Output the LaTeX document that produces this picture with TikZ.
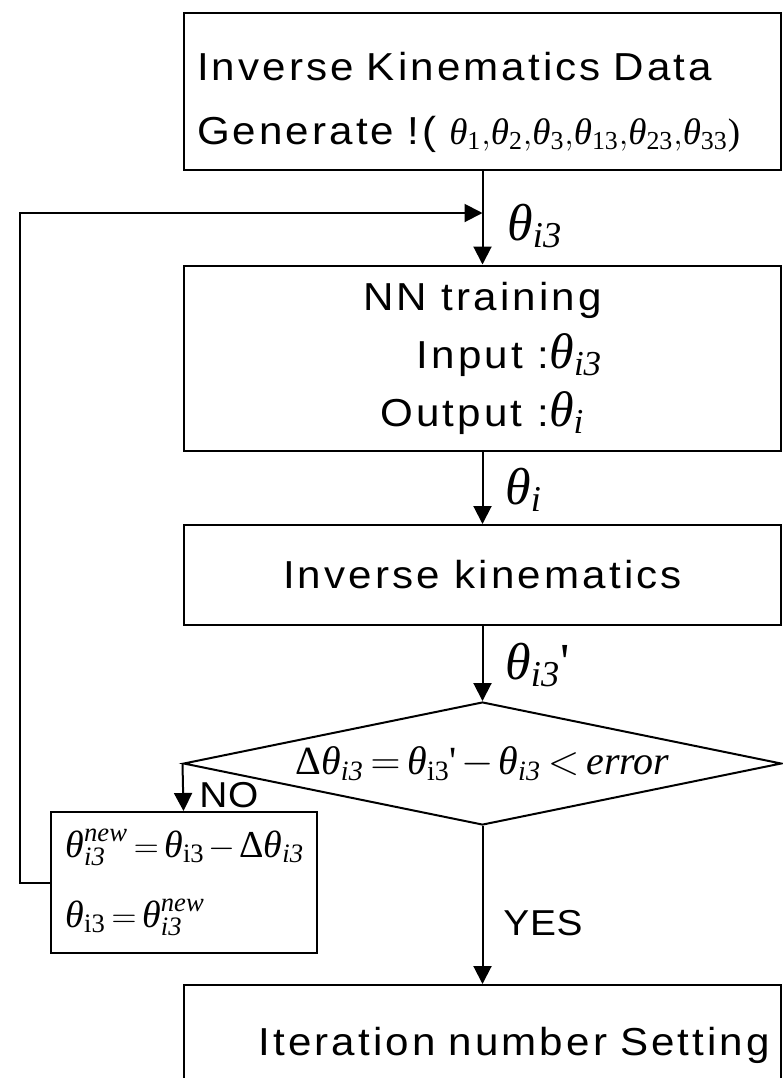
\documentclass[tikz,border=0pt]{standalone}
\usepackage{amsmath}
\usepackage{fontspec}
\setmainfont{Liberation Sans}[FakeStretch=1.08, LetterSpace=8]
\newfontfamily\tms{Liberation Serif}
\usetikzlibrary{arrows.meta,positioning,shapes.geometric}
\tikzset{stepbox/.style={draw, line width=1pt, rectangle, inner sep=0pt, font=\fontsize{19.5}{32}\selectfont}}
\tikzset{decide/.style={draw, line width=1pt, diamond, aspect=4.8, inner sep=0pt, font=\fontsize{20}{24}\selectfont\tightmath}}
\tikzset{arr/.style={draw, line width=1pt, -{Triangle[length=9pt,width=9pt]}}}
\tikzset{lbl/.style={inner sep=0pt, font=\fontsize{26}{30}\selectfont}}
\tikzset{yn/.style={inner sep=0pt, font=\fontsize{18}{24}\selectfont\addfontfeatures{LetterSpace=2}}}
% serif letters for the formulas
\newcommand{\tightmath}{\thickmuskip=3mu\medmuskip=2mu\thinmuskip=1mu}
\newcommand{\tht}{\text{\tms\itshape θ}}
\newcommand{\iv}[1]{\text{\tms\itshape #1}}
\newcommand{\rv}[1]{\text{\tms #1}}
\newcommand{\thi}{\tht_{\iv{i3}}}
\newcommand{\thr}{\tht_{\rv{i3}}}
\newcommand{\dlt}{\text{\tms Δ}}
\newcommand{\lgmath}[1]{{\fontsize{25}{30}\selectfont$#1$}}

\begin{document}
\begin{tikzpicture}[x=0.5pt, y=-0.5pt]
  \useasboundingbox (0,0) rectangle (783,1078);
  \clip (0,0) rectangle (783,1078);

  \node[stepbox, minimum width=298.5pt, minimum height=78.5pt, text width=285.5pt, align=left] (gen) at (482.5,91.5)
    {\rule{0pt}{25pt}Inverse Kinematics Data\\ \mbox{Generate !( {\fontsize{18.5}{24}\selectfont$\tht_{\rv{1}}{,}\tht_{\rv{2}}{,}\tht_{\rv{3}}{,}\tht_{\rv{13}}{,}\tht_{\rv{23}}{,}\tht_{\rv{33}}$\rv{)}}}};
  \node[stepbox, minimum width=298.5pt, minimum height=92.5pt, align=center, font=\fontsize{19.5}{29}\selectfont] (train) at (482.5,358)
    {NN training\\ \hspace*{27pt}Input :\lgmath{\thi}\\ Output :\lgmath{\tht_{\iv{i}}}};
  \node[stepbox, minimum width=298.5pt, minimum height=50pt] (ik) at (482.5,575) {Inverse kinematics};
  \node[decide, minimum width=299pt, minimum height=61.5pt] (check) at (482.5,763.5)
    {$\dlt\thi=\thr\rv{\textquotesingle}-\thi<\iv{error}$};
  \node[stepbox, minimum width=133pt, minimum height=70.5pt, text width=118pt, align=left, font=\fontsize{19}{35}\selectfont\tightmath] (upd) at (183.5,882.5)
    {\mbox{$\thi^{\iv{new}}=\thr-\dlt\thi$}\\ $\thr=\thi^{\iv{new}}$};
  \node[stepbox, minimum width=298.5pt, minimum height=60pt, text width=287.5pt, align=right] (iter) at (482.5,1045) {Iteration number Setting};

  \coordinate (join) at (482.5,213);

  % labels on the flow
  \node[lbl, anchor=west] (lin) at (507,226) {$\thi$};
  \node[lbl, anchor=west] (lout) at (505,490) {$\tht_{\iv{i}}$};
  \node[lbl, anchor=west] (lik) at (505,665) {$\thi$\rv{\textquotesingle}};
  \node[yn, anchor=west] (no) at (199,795) {NO};
  \node[yn, anchor=west] (yes) at (503,923) {YES};

  \begin{scope}[arr]
    \draw (gen) -- (train);
    \draw (train) -- (ik);
    \draw (ik) -- (check);
    \draw (check) -- (iter);
    \draw (check.west) -- (upd.north);
    \draw (upd.west) -- ++(-30,0) |- (join);
  \end{scope}
\end{tikzpicture}
\end{document}
